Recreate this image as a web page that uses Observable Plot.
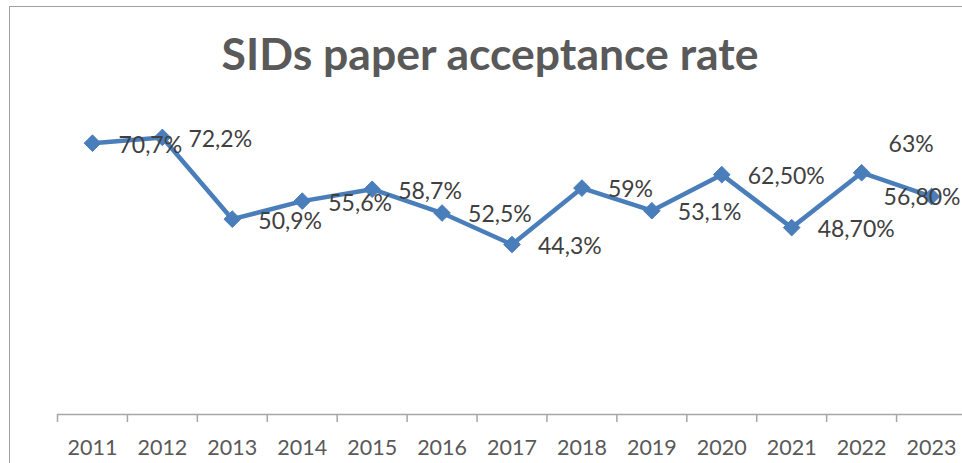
<!DOCTYPE html>
<html>
<head>
<meta charset="utf-8">
<script src="https://cdn.jsdelivr.net/npm/d3@7"></script>
<script src="https://cdn.jsdelivr.net/npm/@observablehq/plot@0.6"></script>
<style>
  html, body { margin: 0; padding: 0; background: #fff; overflow: hidden; width: 962px; height: 463px; }
  #frame { position: absolute; left: 9px; top: 6px; width: 1000px; height: 500px;
           border-left: 1.5px solid #a0a0a0; border-top: 1.5px solid #a0a0a0; }
  #wrap { position: absolute; left: 0; top: 0; width: 962px; }
  #title { height: 95px; line-height: 106px; text-align: center; padding-left: 18px; box-sizing: border-box;
           font-family: Lato, "Open Sans", sans-serif; font-weight: 700; font-size: 44.5px; color: #595959; }
</style>
</head>
<body>
<div id="frame"></div>
<div id="wrap">
  <div id="title">SIDs paper acceptance rate</div>
  <div id="chart"></div>
</div>
<script>
const years = [2011, 2012, 2013, 2014, 2015, 2016, 2017, 2018, 2019, 2020, 2021, 2022, 2023];
const rates = [70.7, 72.2, 50.9, 55.6, 58.7, 52.5, 44.3, 59, 53.1, 62.5, 48.7, 63, 56.8];
const labels = ["70,7%", "72,2%", "50,9%", "55,6%", "58,7%", "52,5%", "44,3%", "59%", "53,1%", "62,50%", "48,70%", "63%", "56,80%"];

const data = years.map((y, i) => ({year: y, rate: rates[i], label: labels[i]}));
const blue = "#4a7ebb";
const font = "Lato, 'Open Sans', sans-serif";

const chart = Plot.plot({
  width: 962,
  height: 368,
  marginTop: 12,
  marginBottom: 49,
  marginLeft: 57,
  marginRight: -4,
  style: {overflow: "visible", fontFamily: font, background: "transparent"},
  x: {type: "linear", domain: [years[0] - 0.5, years[years.length - 1] + 0.5], label: null},
  y: {domain: [0, 80], axis: null, label: null},
  marks: [
    Plot.ruleY([0], {stroke: "#a6a6a6", strokeWidth: 1.5}),
    Plot.axisX(years.map(y => y - 0.5), {tickSize: 8, tickFormat: () => "", label: null, stroke: "#a6a6a6", strokeWidth: 1.5}),
    Plot.axisX(years, {tickSize: 0, tickPadding: 25, tickFormat: d => String(d), label: null, fontSize: 21.5, fill: "#595959"}),
    Plot.line(data, {x: "year", y: "rate", stroke: blue, strokeWidth: 4.5, strokeLinejoin: "round"}),
    Plot.dot(data, {x: "year", y: "rate", symbol: "diamond2", r: 7.5, fill: blue, stroke: blue, strokeWidth: 1}),
    Plot.text(data.filter(d => d.year < 2022), {x: "year", y: "rate", text: "label", textAnchor: "start", dx: 26, dy: 2, fontSize: 23, fill: "#404040"}),
    Plot.text(data.filter(d => d.year === 2022), {x: "year", y: "rate", text: "label", textAnchor: "start", dx: 27, dy: -28, fontSize: 23, fill: "#404040"}),
    Plot.text(data.filter(d => d.year === 2023), {x: "year", y: "rate", text: "label", textAnchor: "start", dx: -48, dy: 1, fontSize: 23, fill: "#404040"})
  ]
});
document.getElementById("chart").appendChild(chart);
</script>
</body>
</html>
